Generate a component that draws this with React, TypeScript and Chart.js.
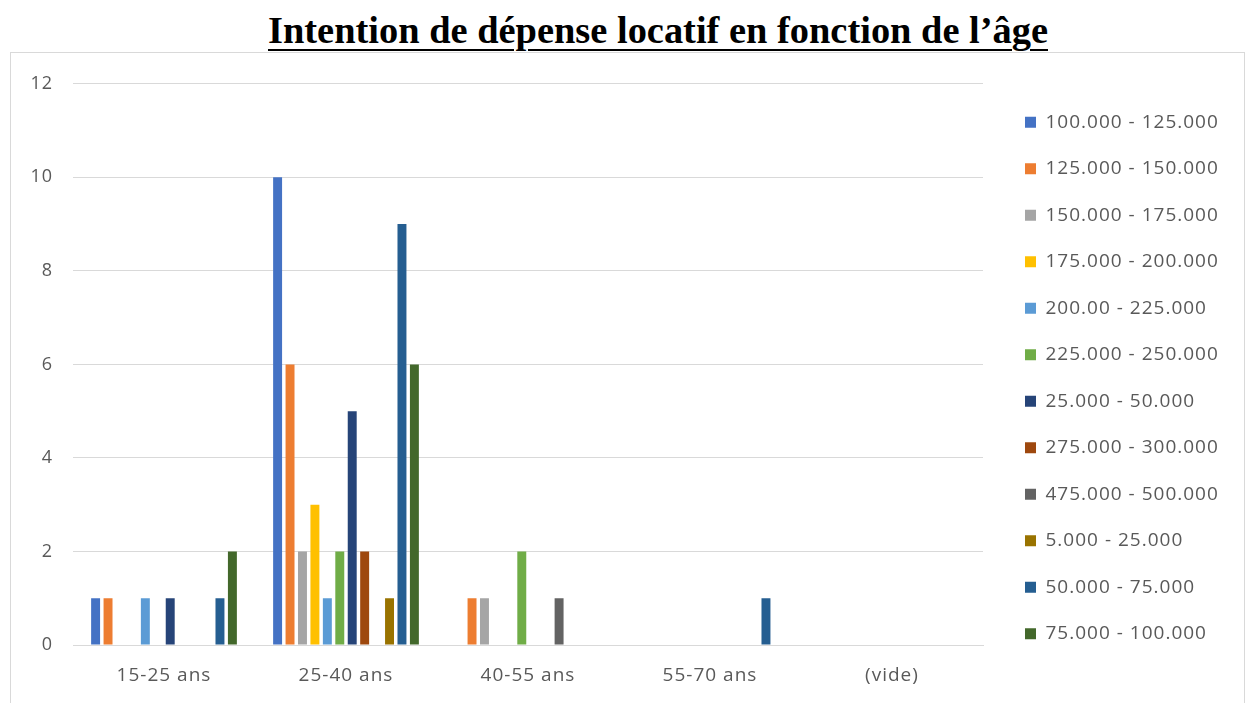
import React, { useEffect, useRef } from "react";
import { Chart, registerables } from "chart.js";

Chart.register(...registerables);

const TITLE = "Intention de dépense locatif en fonction de l’âge";

const categories = ["15-25 ans", "25-40 ans", "40-55 ans", "55-70 ans", "(vide)"];

const seriesNames = [
  "100.000 - 125.000",
  "125.000 - 150.000",
  "150.000 - 175.000",
  "175.000 - 200.000",
  "200.00 - 225.000",
  "225.000 - 250.000",
  "25.000 - 50.000",
  "275.000 - 300.000",
  "475.000 - 500.000",
  "5.000 - 25.000",
  "50.000 - 75.000",
  "75.000 - 100.000",
];

const seriesColors = [
  "#4472C4",
  "#ED7D31",
  "#A5A5A5",
  "#FFC000",
  "#5B9BD5",
  "#70AD47",
  "#264478",
  "#9E480E",
  "#636363",
  "#997300",
  "#255E91",
  "#43682B",
];

const v100_125 = [1, 10, 0, 0, 0];
const v125_150 = [1, 6, 1, 0, 0];
const v150_175 = [0, 2, 1, 0, 0];
const v175_200 = [0, 3, 0, 0, 0];
const v200_225 = [1, 1, 0, 0, 0];
const v225_250 = [0, 2, 2, 0, 0];
const v25_50 = [1, 5, 0, 0, 0];
const v275_300 = [0, 2, 0, 0, 0];
const v475_500 = [0, 0, 1, 0, 0];
const v5_25 = [0, 1, 0, 0, 0];
const v50_75 = [1, 9, 0, 1, 0];
const v75_100 = [2, 6, 0, 0, 0];

const seriesValues = [
  v100_125, v125_150, v150_175, v175_200, v200_225, v225_250,
  v25_50, v275_300, v475_500, v5_25, v50_75, v75_100,
];

const yMin = 0;
const yMax = 12;
const yStep = 2;

const FONT = "'Open Sans', 'Noto Sans', sans-serif";
const TEXT_COLOR = "#595959";
const GRID_COLOR = "#d9d9d9";

const CW = 1233;
const CH = 650;

function titleScale(): number {
  const c = document.createElement("canvas").getContext("2d");
  if (!c) return 1;
  c.font = "bold 38px 'Liberation Serif'";
  const w = c.measureText(TITLE).width;
  return w > 0 ? 780 / w : 1;
}

export default function App() {
  const ref = useRef<HTMLCanvasElement>(null);
  const sx = titleScale();

  useEffect(() => {
    const canvas = ref.current;
    if (!canvas) return;

    const LEG_FS = 19;
    const LEG_PAD = 27.5;
    const BOX = 11;

    const plotLeft = 62; // canvas coords (page 73)
    const wantPlotRight = 972; // canvas coords (page 983)
    const wantBoxGap = 42; // plot right -> legend box left
    const geom = { gapR: 15.5, padRight: 20 };

    const spacing = {
      id: "letterSpacing",
      beforeLayout(c: any) {
        c.ctx.letterSpacing = "1px";
      },
      beforeDraw(c: any) {
        c.ctx.letterSpacing = "1px";
      },
    };

    const chart = new Chart(canvas, {
      type: "bar",
      data: {
        labels: categories,
        datasets: seriesNames.map((name, i) => ({
          label: name,
          data: seriesValues[i],
          backgroundColor: seriesColors[i],
          borderWidth: 0,
          barPercentage: 0.72,
          categoryPercentage: 0.82,
          xAxisID: "x",
          yAxisID: "y",
        })),
      },
      options: {
        responsive: false,
        animation: false,
        layout: { padding: { left: 0, top: 0, bottom: 0, right: geom.padRight } },
        plugins: {
          title: { display: false },
          tooltip: { enabled: false },
          legend: {
            display: true,
            position: "right",
            align: "center",
            maxWidth: 400,
            labels: {
              boxWidth: BOX,
              boxHeight: BOX,
              padding: LEG_PAD,
              color: TEXT_COLOR,
              font: { family: FONT, size: LEG_FS },
            },
          },
        },
        scales: {
          x: {
            type: "category",
            position: "bottom",
            grid: { display: false, drawTicks: false },
            border: { display: true, color: GRID_COLOR, width: 1 },
            ticks: {
              color: TEXT_COLOR,
              font: { family: FONT, size: 19 },
              padding: 19,
              maxRotation: 0,
            },
            afterFit: (s: any) => {
              s.height = 58;
            },
          },
          xTop: {
            type: "category",
            position: "top",
            display: true,
            grid: { display: false, drawTicks: false },
            border: { display: false },
            ticks: { display: false },
            afterFit: (s: any) => {
              s.height = 26;
            },
          },
          y: {
            type: "linear",
            position: "left",
            min: yMin,
            max: yMax,
            grid: { color: GRID_COLOR, lineWidth: 1, drawTicks: false },
            border: { display: false },
            ticks: {
              stepSize: yStep,
              color: TEXT_COLOR,
              font: { family: FONT, size: 18 },
              padding: 20,
            },
            afterFit: (s: any) => {
              s.width = plotLeft;
            },
          },
          yR: {
            type: "linear",
            position: "right",
            display: true,
            grid: { display: false, drawTicks: false },
            border: { display: false },
            ticks: { display: false },
            afterFit: (s: any) => {
              s.width = geom.gapR;
            },
          },
        },
      } as any,
      plugins: [spacing],
    });

    // Fine-tune the right side so the plot area and legend land where the reference has them.
    for (let k = 0; k < 3; k++) {
      const ca = chart.chartArea;
      const hb: any = (chart as any).legend?.legendHitBoxes?.[0];
      if (!ca || !hb) break;
      const boxGap = hb.left - ca.right;
      const dGap = wantBoxGap - boxGap;
      const newGap = Math.max(0, geom.gapR + dGap);
      const realDGap = newGap - geom.gapR;
      const dPad = ca.right - realDGap - wantPlotRight;
      if (Math.abs(realDGap) < 0.25 && Math.abs(dPad) < 0.25) break;
      geom.gapR = newGap;
      geom.padRight = Math.max(0, geom.padRight + dPad);
      (chart.options as any).layout.padding.right = geom.padRight;
      chart.update();
    }

    return () => {
      chart.destroy();
    };
  }, []);

  return (
    <div
      style={{
        position: "absolute",
        left: 0,
        top: 0,
        width: 1253,
        height: 703,
        background: "#ffffff",
        overflow: "hidden",
      }}
    >
      <div
        style={{
          position: "absolute",
          left: 268,
          top: 11,
          whiteSpace: "nowrap",
          fontFamily: "'Liberation Serif', serif",
          fontWeight: "bold",
          fontSize: 38,
          lineHeight: "38px",
          color: "#000000",
          textDecoration: "underline",
          textDecorationThickness: "2px",
          textUnderlineOffset: "6px",
          transformOrigin: "left top",
          transform: `scaleX(${sx})`,
        }}
      >
        {TITLE}
      </div>
      <div
        style={{
          position: "absolute",
          left: 10,
          top: 52,
          width: 1235,
          height: 700,
          border: `1px solid ${GRID_COLOR}`,
          boxSizing: "border-box",
        }}
      />
      <div style={{ position: "absolute", left: 11, top: 53, width: CW, height: CH }}>
        <canvas ref={ref} width={CW} height={CH} style={{ width: CW, height: CH, display: "block" }} />
      </div>
    </div>
  );
}
